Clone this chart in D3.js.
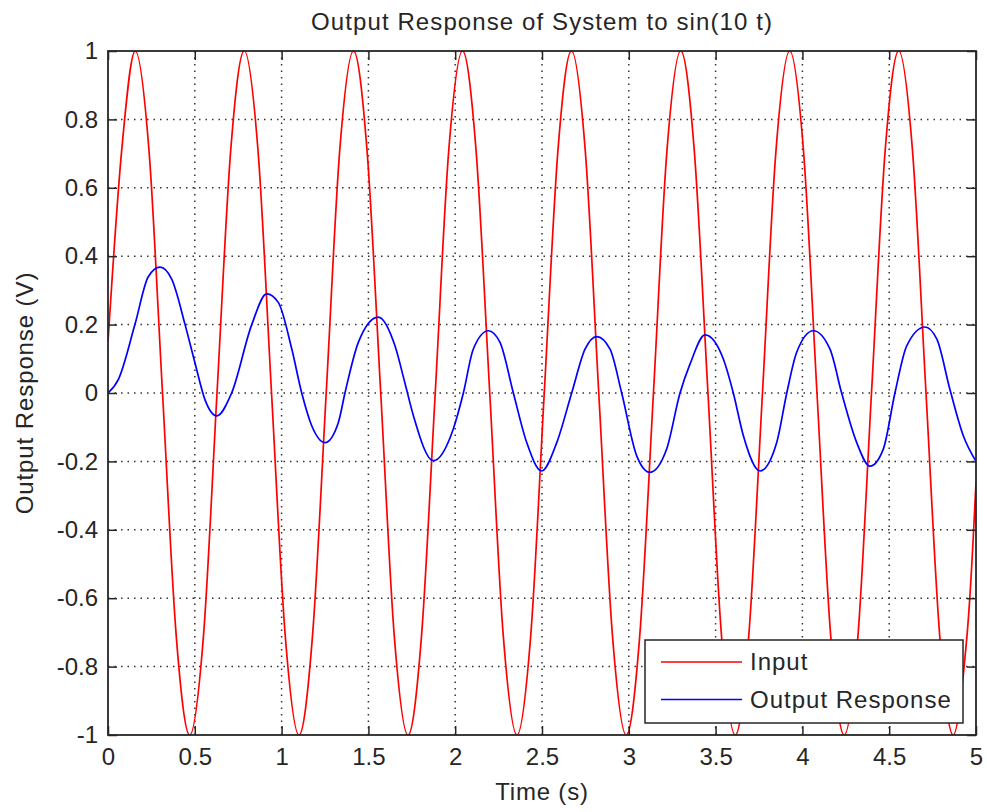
<!DOCTYPE html>
<html lang="en">
<head>
<meta charset="UTF-8">
<title>Output Response of System to sin(10 t)</title>
<style>
  body { margin: 0; background: #fff; }
  svg text { font-family: "Liberation Sans", Arial, sans-serif; fill: #262626; }
</style>
<script src="https://cdn.jsdelivr.net/npm/d3@7/dist/d3.min.js"></script>
</head>
<body>
<script>
// input signal, read at its peaks, zero crossings and half-way points
var inputTime = [
  0, 0.079, 0.157, 0.236, 0.314, 0.393, 0.471, 0.550,
  0.628, 0.707, 0.785, 0.864, 0.942, 1.021, 1.100, 1.178,
  1.257, 1.335, 1.414, 1.492, 1.571, 1.649, 1.728, 1.806,
  1.885, 1.963, 2.042, 2.120, 2.199, 2.277, 2.356, 2.435,
  2.513, 2.592, 2.670, 2.749, 2.827, 2.906, 2.985, 3.063,
  3.142, 3.220, 3.299, 3.377, 3.456, 3.534, 3.613, 3.691,
  3.770, 3.848, 3.927, 4.006, 4.084, 4.163, 4.241, 4.320,
  4.398, 4.477, 4.555, 4.634, 4.712, 4.791, 4.869, 4.948,
  5.0
];
var inputValue = [
  0.15, 0.71, 1, 0.71, 0, -0.71, -1, -0.71,
  0, 0.71, 1, 0.71, 0, -0.71, -1, -0.71,
  0, 0.71, 1, 0.71, 0, -0.71, -1, -0.71,
  0, 0.71, 1, 0.71, 0, -0.71, -1, -0.71,
  0, 0.71, 1, 0.71, 0, -0.71, -1, -0.71,
  0, 0.71, 1, 0.71, 0, -0.71, -1, -0.71,
  0, 0.71, 1, 0.71, 0, -0.71, -1, -0.71,
  0, 0.71, 1, 0.71, 0, -0.71, -1, -0.71,
  -0.26
];

// output response
var outputTime = [
  0, 0.06, 0.155, 0.232, 0.30, 0.367, 0.444, 0.50, 0.559, 0.626,
  0.712, 0.828, 0.914, 0.981, 1.058, 1.116, 1.173, 1.25, 1.327, 1.365,
  1.442, 1.557, 1.653, 1.71, 1.759, 1.874, 1.989, 2.047, 2.104, 2.191,
  2.258, 2.335, 2.412, 2.498, 2.585, 2.671, 2.748, 2.815, 2.892, 2.959,
  3.045, 3.122, 3.218, 3.295, 3.353, 3.439, 3.544, 3.602, 3.66, 3.756,
  3.852, 3.91, 3.967, 4.063, 4.159, 4.226, 4.313, 4.389, 4.466, 4.533,
  4.601, 4.706, 4.774, 4.85, 4.927, 5.0
];
var outputValue = [
  0, 0.04, 0.2, 0.34, 0.368, 0.333, 0.2, 0.09, -0.02, -0.067,
  0, 0.2, 0.29, 0.265, 0.13, 0, -0.095, -0.145, -0.086, 0,
  0.148, 0.222, 0.138, 0.03, -0.066, -0.198, -0.105, 0, 0.128, 0.182,
  0.148, 0, -0.145, -0.228, -0.145, 0, 0.128, 0.165, 0.128, 0,
  -0.183, -0.232, -0.164, 0, 0.085, 0.17, 0.1, 0, -0.125, -0.228,
  -0.145, 0, 0.119, 0.182, 0.128, 0, -0.145, -0.214, -0.164, 0,
  0.138, 0.193, 0.158, 0.01, -0.125, -0.2
];

var xTicks = [0, 0.5, 1, 1.5, 2, 2.5, 3, 3.5, 4, 4.5, 5];
var yTicks = [-1, -0.8, -0.6, -0.4, -0.2, 0, 0.2, 0.4, 0.6, 0.8, 1];
var seriesNames = ["Input", "Output Response"];
var seriesColors = ["#ff0000", "#0000ff"];

var width = 987, height = 812;
var plotLeft = 108, plotRight = 976, plotTop = 51, plotBottom = 735;
var tickLen = 9;

var x = d3.scaleLinear().domain([0, 5]).range([plotLeft, plotRight]);
var y = d3.scaleLinear().domain([-1, 1]).range([plotBottom, plotTop]);

var svg = d3.select("body").append("svg")
  .attr("width", width)
  .attr("height", height)
  .style("font-size", "24px");

svg.append("rect")
  .attr("x", plotLeft).attr("y", plotTop)
  .attr("width", plotRight - plotLeft).attr("height", plotBottom - plotTop)
  .attr("fill", "#fff");

svg.append("defs").append("clipPath").attr("id", "plotclip")
  .append("rect")
  .attr("x", plotLeft).attr("y", plotTop)
  .attr("width", plotRight - plotLeft).attr("height", plotBottom - plotTop);

// dotted grid
var grid = svg.append("g").attr("stroke", "#333").attr("stroke-width", 1.5)
  .attr("stroke-dasharray", "1.5,5");
grid.selectAll("line.vg").data(xTicks.slice(1, -1)).enter().append("line")
  .attr("class", "vg")
  .attr("x1", function(d){ return x(d); }).attr("x2", function(d){ return x(d); })
  .attr("y1", plotTop).attr("y2", plotBottom);
grid.selectAll("line.hg").data(yTicks.slice(1, -1)).enter().append("line")
  .attr("class", "hg")
  .attr("x1", plotLeft).attr("x2", plotRight)
  .attr("y1", function(d){ return y(d); }).attr("y2", function(d){ return y(d); });

// curves
var plot = svg.append("g").attr("clip-path", "url(#plotclip)");

var inputLine = d3.line()
  .x(function(d, i){ return x(inputTime[i]); })
  .y(function(d){ return y(d); })
  .curve(d3.curveCatmullRom.alpha(0));
var outputLine = d3.line()
  .x(function(d, i){ return x(outputTime[i]); })
  .y(function(d){ return y(d); })
  .curve(d3.curveMonotoneX);

plot.append("path")
  .attr("d", inputLine(inputValue))
  .attr("fill", "none").attr("stroke", seriesColors[0]).attr("stroke-width", 1.7);
plot.append("path")
  .attr("d", outputLine(outputValue))
  .attr("fill", "none").attr("stroke", seriesColors[1]).attr("stroke-width", 1.7);

// axes, ticks pointing inwards
function fmt(d){ return String(+d.toFixed(1)); }

var xAxis = svg.append("g").attr("transform", "translate(0," + plotBottom + ")")
  .call(d3.axisBottom(x).tickValues(xTicks).tickFormat(fmt)
    .tickSizeInner(-tickLen).tickSizeOuter(0).tickPadding(13));
var yAxis = svg.append("g").attr("transform", "translate(" + plotLeft + ",0)")
  .call(d3.axisLeft(y).tickValues(yTicks).tickFormat(fmt)
    .tickSizeInner(-tickLen).tickSizeOuter(0).tickPadding(10));
var xTop = svg.append("g").attr("transform", "translate(0," + plotTop + ")")
  .call(d3.axisTop(x).tickValues(xTicks).tickFormat("")
    .tickSizeInner(-tickLen).tickSizeOuter(0));
var yRight = svg.append("g").attr("transform", "translate(" + plotRight + ",0)")
  .call(d3.axisRight(y).tickValues(yTicks).tickFormat("")
    .tickSizeInner(-tickLen).tickSizeOuter(0));

[xAxis, yAxis, xTop, yRight].forEach(function(g){
  g.select(".domain").remove();
  g.selectAll(".tick line").attr("stroke", "#262626").attr("stroke-width", 1.5);
  g.selectAll("text").attr("font-size", "24px")
    .attr("font-family", "'Liberation Sans', Arial, sans-serif").attr("fill", "#262626");
});

svg.append("rect")
  .attr("x", plotLeft).attr("y", plotTop)
  .attr("width", plotRight - plotLeft).attr("height", plotBottom - plotTop)
  .attr("fill", "none").attr("stroke", "#262626").attr("stroke-width", 1.8);

// titles
svg.append("text")
  .attr("x", (plotLeft + plotRight) / 2).attr("y", 30)
  .attr("text-anchor", "middle")
  .style("letter-spacing", "1.1px")
  .text("Output Response of System to sin(10 t)");
svg.append("text")
  .attr("x", (plotLeft + plotRight) / 2).attr("y", 800)
  .attr("text-anchor", "middle")
  .style("letter-spacing", "0.8px")
  .text("Time (s)");
svg.append("text")
  .attr("transform", "translate(33," + ((plotTop + plotBottom) / 2) + ") rotate(-90)")
  .attr("text-anchor", "middle")
  .style("letter-spacing", "0.9px")
  .text("Output Response (V)");

// legend
var legend = svg.append("g");
legend.append("rect")
  .attr("x", 645).attr("y", 640).attr("width", 318).attr("height", 83)
  .attr("fill", "#fff").attr("stroke", "#262626").attr("stroke-width", 1.5);
var items = legend.selectAll("g.item").data(seriesNames).enter().append("g")
  .attr("class", "item")
  .attr("transform", function(d, i){ return "translate(661," + (662 + i * 37.5) + ")"; });
items.append("line")
  .attr("x1", 0).attr("x2", 81).attr("y1", 0).attr("y2", 0)
  .attr("stroke", function(d, i){ return seriesColors[i]; }).attr("stroke-width", 1.7);
items.append("text")
  .attr("x", 89).attr("y", 0).attr("dy", "0.35em")
  .style("letter-spacing", "1px")
  .text(function(d){ return d; });
</script>
</body>
</html>
